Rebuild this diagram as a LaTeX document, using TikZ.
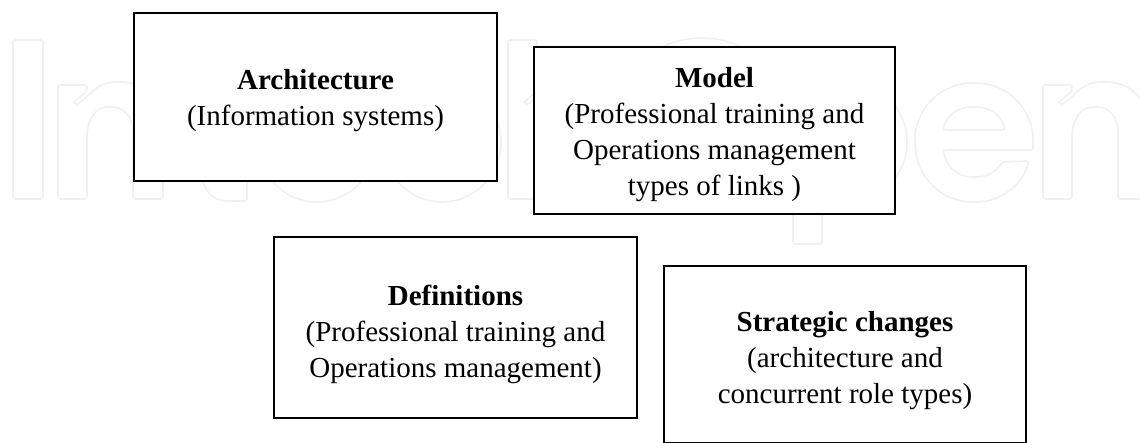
\documentclass[tikz,border=0pt]{standalone}
\usepackage{fontspec}
\setmainfont{Liberation Serif}
\definecolor{marklight}{HTML}{EFF0F0}
\tikzset{
    topicbox/.style={draw=black, fill=white, line width=1.3pt, inner sep=0pt},
    topictext/.style={align=center, font=\fontsize{29}{36}\selectfont, inner sep=0pt},
    markline/.style={draw=marklight, line width=1.6pt, rounded corners=2.5pt}
}
\begin{document}
\begin{tikzpicture}[x=1pt,y=-1pt]
        \useasboundingbox (0,0) rectangle (1140,443);
        % watermark letters
        \draw[markline] (13,40) rectangle (43,199);
        \foreach \x/\t in {58/85,508/40,1043/85}{
            \draw[markline, shift={(\x,0)}] (0,\t) -- (29,\t) -- (29,91) -- (16,102) -- (19,105) -- (31,95)
                .. controls (38,87) and (48,82) .. (60,82) .. controls (88,82) and (105,100) .. (105,128)
                -- (105,199) -- (75,199) -- (75,135) .. controls (75,117) and (66,107) .. (52,107)
                .. controls (38,107) and (29,119) .. (29,140) -- (29,199) -- (0,199) -- cycle;
        }
        \draw[markline] (200,160) .. controls (200,190) and (212,201) .. (230,201) -- (247,201) -- (247,160);
        \foreach \x/\y/\a/\b in {317/142/59/60,442/142/59/60,702/120/88/82,848/142/59/60}{
            \draw[draw=marklight, line width=1.6pt] (\x,\y) ellipse ({\a} and {\b});
        }
        \draw[markline] (793,200) rectangle (822,244);
        \draw[markline] (1033,150) -- (943,150) .. controls (946,167) and (958,177) .. (975,177)
            .. controls (986,177) and (996,172) .. (1002,162) -- (1029,161)
            .. controls (1022,186) and (1000,202) .. (974,202) .. controls (941,202) and (915,175) .. (915,142)
            .. controls (915,109) and (941,83) .. (974,83) .. controls (1007,83) and (1033,109) .. (1033,142) -- cycle;
        \draw[markline] (943,130) .. controls (946,116) and (958,107) .. (974,107)
            .. controls (990,107) and (1002,116) .. (1005,130) -- cycle;
        % boxes
        \foreach \x/\y/\w/\h/\s/\n/\l in {
            134/13/363/168/4/arch/{\textbf{Architecture}\\(Information systems)},
            534/47/361/167/4.5/model/{\textbf{Model}\\(Professional training and\\Operations management\\types of links )},
            274/237/363/181/6.5/defs/{\textbf{Definitions}\\(Professional training and\\Operations management)},
            664/266/362/177/6/strat/{\textbf{Strategic changes}\\(architecture and\\concurrent role types)}}{
            \node[topicbox, minimum width=\w pt, minimum height=\h pt] (\n) at (\x+\w/2,\y+\h/2) {};
            \node[topictext, yshift=-\s pt] (\n text) at (\n) {\l};
        }
    \end{tikzpicture}
\end{document}
